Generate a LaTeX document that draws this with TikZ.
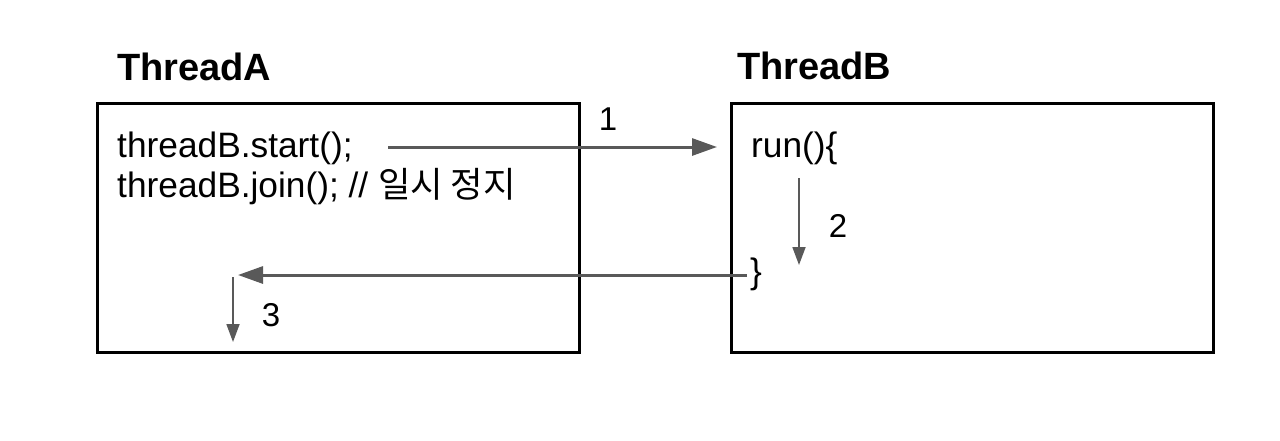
\documentclass[tikz,border=0pt]{standalone}
\usepackage{fontspec}
\setmainfont{Liberation Sans}
\newfontfamily\krfont{Noto Sans CJK KR}
\usetikzlibrary{arrows.meta,positioning}

\definecolor{arrowgray}{HTML}{595959}

\begin{document}
\begin{tikzpicture}[x=1pt, y=-1pt,
    thread/.style={draw, line width=3pt, minimum width=482pt, minimum height=249pt, inner sep=0pt},
    title/.style={font=\fontsize{38}{42}\selectfont\bfseries, inner sep=0pt, anchor=base west},
    code/.style={font=\fontsize{35.3}{40}\selectfont, inner sep=0pt, anchor=base west},
    step label/.style={font=\fontsize{33}{40}\selectfont, inner sep=0pt},
    callarrow/.style={draw=arrowgray, line width=3pt, -{Triangle[length=25pt,width=17pt]}},
    flowarrow/.style={draw=arrowgray, line width=1.8pt, -{Triangle[length=18pt,width=13pt]}}]
    \useasboundingbox (0,0) rectangle (1280,440);
    % the two threads
    \node[thread] (A) at (338,227.5) {};
    \node[thread] (B) at (972,227.5) {};
    \node[title] (titleA) at (117,80) {ThreadA};
    \node[title] (titleB) at (737,79) {ThreadB};
    % code lines
    \node[code] (start) at (117,157) {threadB.start();};
    \node[code] (join) at (117,197) {threadB.join(); // {\krfont 일시 정지}};
    \node[code] (run) at (751,157) {run()\{};
    \node[code] (close) at (750,283) {\}};
    % arrow ends
    \coordinate (s1) at (388,147);
    \coordinate (e1) at (717,147);
    \coordinate (s2) at (799,178);
    \coordinate (e2) at (799,265);
    \coordinate (e3) at (238,275);
    \coordinate (s4) at (233,277);
    \coordinate (e4) at (233,342);
    \path[callarrow] (s1) -- (e1);
    \path[flowarrow] (s2) -- (e2);
    \path[callarrow] (close.west |- e3) ++(-3,0) -- (e3);
    \path[flowarrow] (s4) -- (e4);
    % step numbers
    \node[step label] (n1) at (608,119) {1};
    \node[step label] (n2) at (838,226) {2};
    \node[step label] (n3) at (271,315) {3};
\end{tikzpicture}
\end{document}
